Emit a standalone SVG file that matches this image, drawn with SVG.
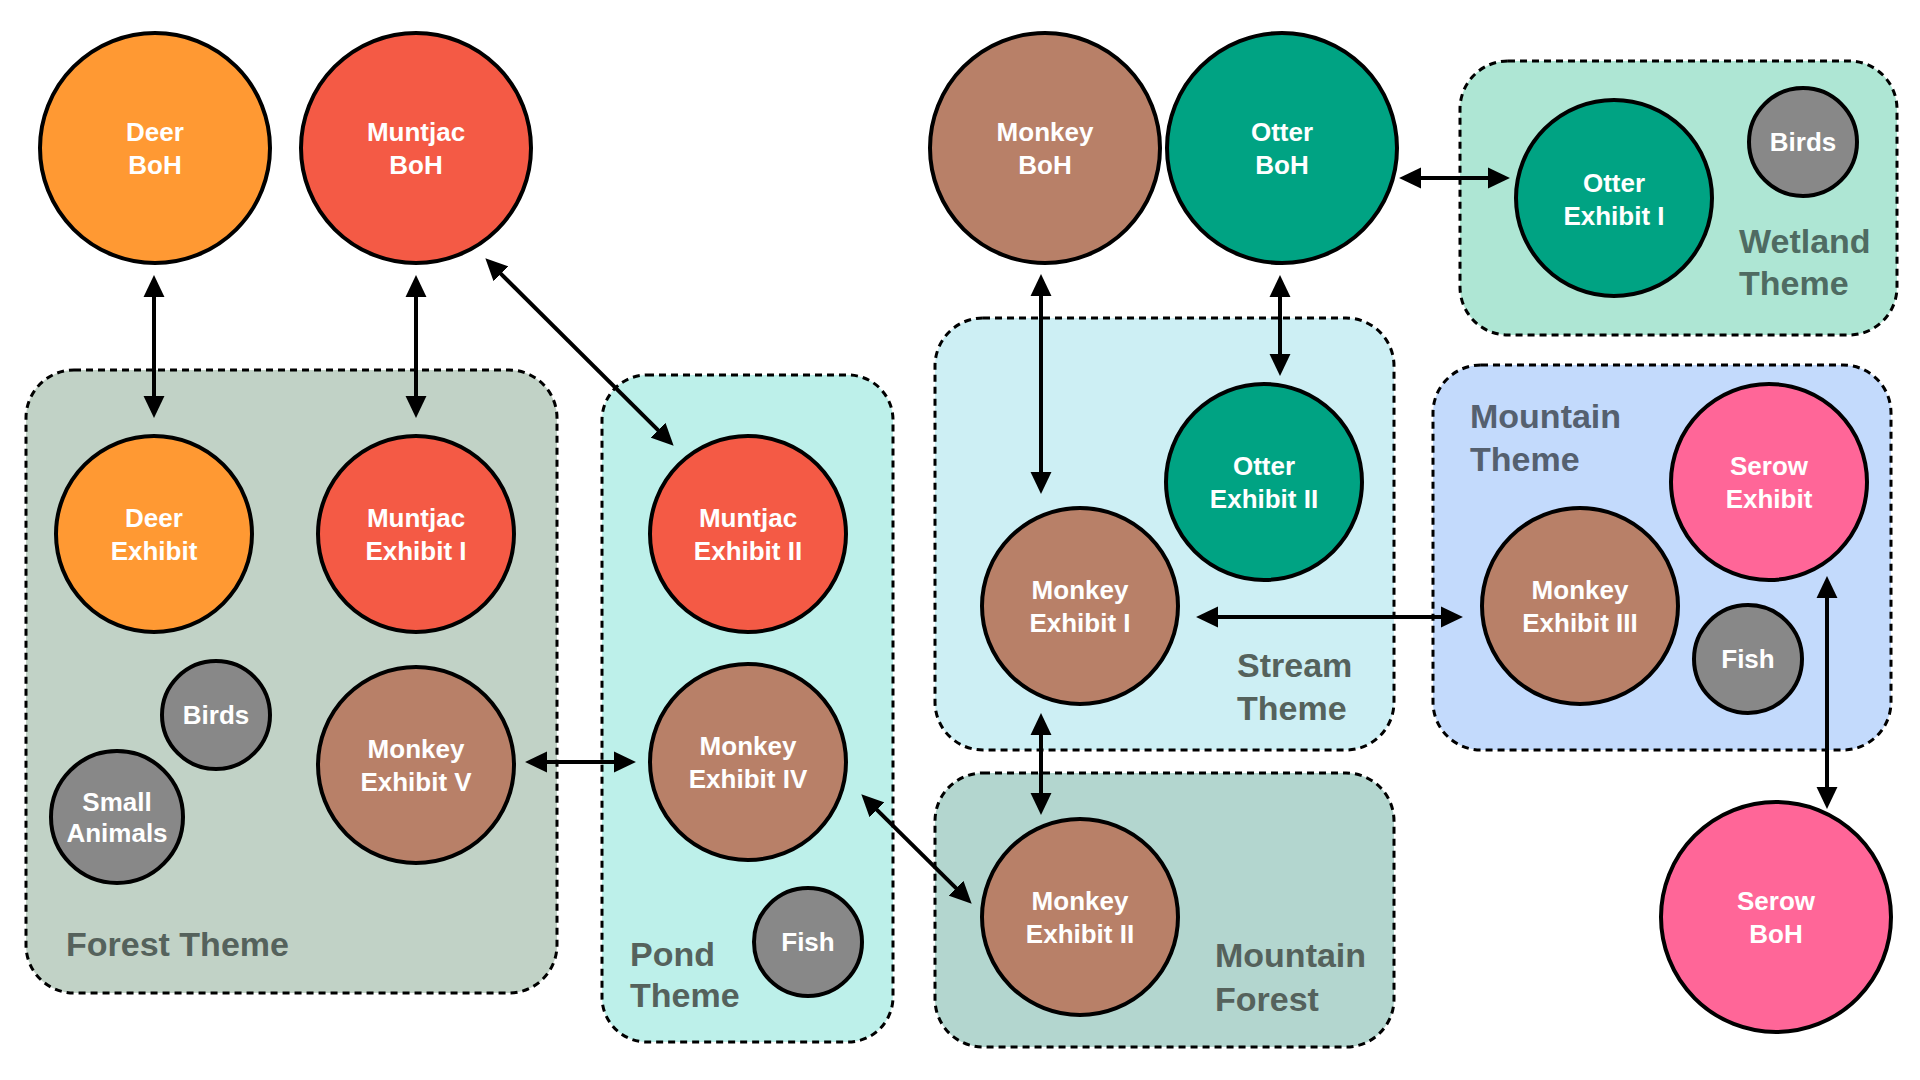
<svg xmlns="http://www.w3.org/2000/svg" width="1920" height="1080" viewBox="0 0 1920 1080">
<style>
.grp{stroke:#000;stroke-width:3;stroke-dasharray:7 5}
.nd{stroke:#000;stroke-width:4}
.nt{font-family:"Liberation Sans",Arial,Helvetica,sans-serif;font-weight:bold;font-size:26px;fill:#fff;text-anchor:middle}
.gl{font-family:"Liberation Sans",Arial,Helvetica,sans-serif;font-weight:bold;font-size:34px;fill:#55625C}
.orange{fill:#FF9933}.red{fill:#F45A45}.brown{fill:#B88068}.teal{fill:#00A383}.gray{fill:#888888}.pink{fill:#FF6698}
.cn{stroke:#000;stroke-width:4;fill:none;marker-start:url(#ah);marker-end:url(#ah)}
</style>
<defs>
<marker id="ah" markerUnits="userSpaceOnUse" markerWidth="22" markerHeight="22" refX="1" refY="10" orient="auto-start-reverse" viewBox="0 0 21 20">
<path d="M0,0 L21,10 L0,20 z" fill="#000"/>
</marker>
</defs>
<rect width="1920" height="1080" fill="#fff"/>
<g id="groups">
<g id="forest-theme"><rect class="grp" x="26" y="370" width="531" height="623" rx="48" fill="#C1D2C6"/><text class="gl" x="66" y="956">Forest Theme</text></g>
<g id="pond-theme"><rect class="grp" x="602" y="375" width="291" height="667" rx="45" fill="#BDF0EA"/><text class="gl" x="630" y="966">Pond<tspan x="630" y="1007">Theme</tspan></text></g>
<g id="stream-theme"><rect class="grp" x="935" y="318" width="459" height="432" rx="48" fill="#CDEFF4"/><text class="gl" x="1237" y="677">Stream<tspan x="1237" y="720">Theme</tspan></text></g>
<g id="mountain-forest"><rect class="grp" x="935" y="773" width="459" height="274" rx="48" fill="#B3D6CF"/><text class="gl" x="1215" y="967">Mountain<tspan x="1215" y="1011">Forest</tspan></text></g>
<g id="wetland-theme"><rect class="grp" x="1460" y="61" width="437" height="274" rx="48" fill="#AEE6D4"/><text class="gl" x="1739" y="253" style="fill:#4F6B62">Wetland<tspan x="1739" y="295">Theme</tspan></text></g>
<g id="mountain-theme"><rect class="grp" x="1433" y="365" width="458" height="385" rx="48" fill="#C3DAFC"/><text class="gl" x="1470" y="428" style="fill:#55606F">Mountain<tspan x="1470" y="471">Theme</tspan></text></g>
</g>
<g id="connectors">
<line class="cn" x1="154" y1="296" x2="154" y2="397"/>
<line class="cn" x1="416" y1="296" x2="416" y2="397"/>
<line class="cn" x1="500.2" y1="273.1" x2="658.8" y2="430.9"/>
<line class="cn" x1="546" y1="762" x2="615" y2="762"/>
<line class="cn" x1="876.2" y1="809.1" x2="956.8" y2="888.9"/>
<line class="cn" x1="1041" y1="295" x2="1041" y2="473"/>
<line class="cn" x1="1280" y1="296" x2="1280" y2="355"/>
<line class="cn" x1="1420" y1="178" x2="1489" y2="178"/>
<line class="cn" x1="1041" y1="734" x2="1041" y2="794"/>
<line class="cn" x1="1217" y1="617" x2="1442" y2="617"/>
<line class="cn" x1="1827" y1="597" x2="1827" y2="788"/>
</g>
<g id="deer-boh"><circle class="nd orange" cx="155" cy="148" r="115"/><text class="nt" x="155" y="141">Deer<tspan x="155" y="174">BoH</tspan></text></g>
<g id="muntjac-boh"><circle class="nd red" cx="416" cy="148" r="115"/><text class="nt" x="416" y="141">Muntjac<tspan x="416" y="174">BoH</tspan></text></g>
<g id="monkey-boh"><circle class="nd brown" cx="1045" cy="148" r="115"/><text class="nt" x="1045" y="141">Monkey<tspan x="1045" y="174">BoH</tspan></text></g>
<g id="otter-boh"><circle class="nd teal" cx="1282" cy="148" r="115"/><text class="nt" x="1282" y="141">Otter<tspan x="1282" y="174">BoH</tspan></text></g>
<g id="otter-exhibit-1"><circle class="nd teal" cx="1614" cy="198" r="98"/><text class="nt" x="1614" y="192">Otter<tspan x="1614" y="225">Exhibit I</tspan></text></g>
<g id="birds-wetland"><circle class="nd gray" cx="1803" cy="142" r="54"/><text class="nt" x="1803" y="151">Birds</text></g>
<g id="deer-exhibit"><circle class="nd orange" cx="154" cy="534" r="98"/><text class="nt" x="154" y="527">Deer<tspan x="154" y="560">Exhibit</tspan></text></g>
<g id="muntjac-exhibit-1"><circle class="nd red" cx="416" cy="534" r="98"/><text class="nt" x="416" y="527">Muntjac<tspan x="416" y="560">Exhibit I</tspan></text></g>
<g id="muntjac-exhibit-2"><circle class="nd red" cx="748" cy="534" r="98"/><text class="nt" x="748" y="527">Muntjac<tspan x="748" y="560">Exhibit II</tspan></text></g>
<g id="birds-forest"><circle class="nd gray" cx="216" cy="715" r="54"/><text class="nt" x="216" y="724">Birds</text></g>
<g id="small-animals"><circle class="nd gray" cx="117" cy="817" r="66"/><text class="nt" x="117" y="811">Small<tspan x="117" y="842">Animals</tspan></text></g>
<g id="monkey-exhibit-5"><circle class="nd brown" cx="416" cy="765" r="98"/><text class="nt" x="416" y="758">Monkey<tspan x="416" y="791">Exhibit V</tspan></text></g>
<g id="monkey-exhibit-4"><circle class="nd brown" cx="748" cy="762" r="98"/><text class="nt" x="748" y="755">Monkey<tspan x="748" y="788">Exhibit IV</tspan></text></g>
<g id="fish-pond"><circle class="nd gray" cx="808" cy="942" r="54"/><text class="nt" x="808" y="951">Fish</text></g>
<g id="otter-exhibit-2"><circle class="nd teal" cx="1264" cy="482" r="98"/><text class="nt" x="1264" y="475">Otter<tspan x="1264" y="508">Exhibit II</tspan></text></g>
<g id="monkey-exhibit-1"><circle class="nd brown" cx="1080" cy="606" r="98"/><text class="nt" x="1080" y="599">Monkey<tspan x="1080" y="632">Exhibit I</tspan></text></g>
<g id="monkey-exhibit-2"><circle class="nd brown" cx="1080" cy="917" r="98"/><text class="nt" x="1080" y="910">Monkey<tspan x="1080" y="943">Exhibit II</tspan></text></g>
<g id="serow-exhibit"><circle class="nd pink" cx="1769" cy="482" r="98"/><text class="nt" x="1769" y="475">Serow<tspan x="1769" y="508">Exhibit</tspan></text></g>
<g id="monkey-exhibit-3"><circle class="nd brown" cx="1580" cy="606" r="98"/><text class="nt" x="1580" y="599">Monkey<tspan x="1580" y="632">Exhibit III</tspan></text></g>
<g id="fish-mountain"><circle class="nd gray" cx="1748" cy="659" r="54"/><text class="nt" x="1748" y="668">Fish</text></g>
<g id="serow-boh"><circle class="nd pink" cx="1776" cy="917" r="115"/><text class="nt" x="1776" y="910">Serow<tspan x="1776" y="943">BoH</tspan></text></g>
</svg>
